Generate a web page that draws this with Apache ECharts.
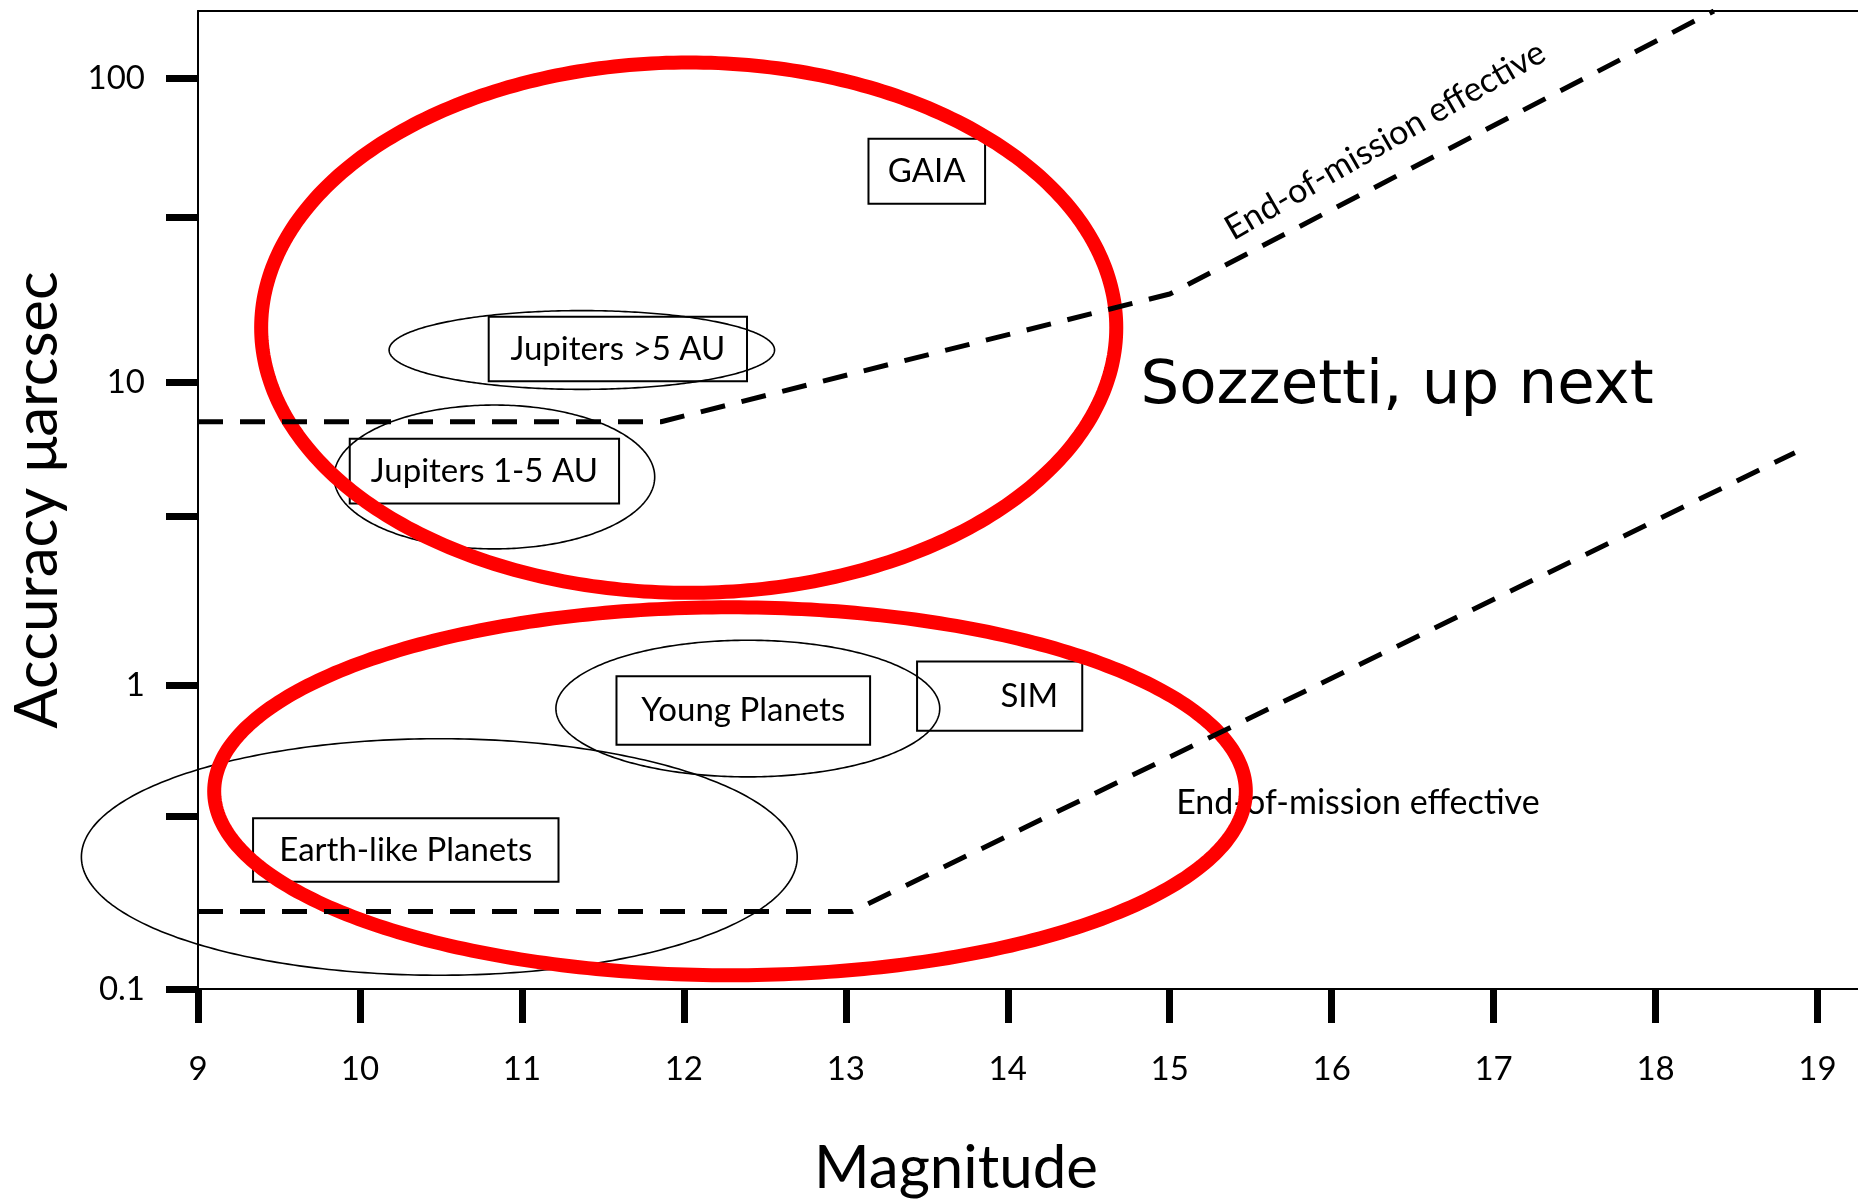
<!DOCTYPE html>
<html>
<head>
<meta charset="utf-8">
<script src="https://cdn.jsdelivr.net/npm/echarts@6/dist/echarts.min.js"></script>
<style>
  html, body { margin: 0; padding: 0; background: #ffffff; }
  #chart { width: 1858px; height: 1204px; }
</style>
</head>
<body>
<div id="chart"></div>
<script>
// ---- axis ticks ----
const xTicks = [9, 10, 11, 12, 13, 14, 15, 16, 17, 18, 19];
const yMajorTicks = [0.1, 1, 10, 100];
const yMinorTicks = [0.37, 3.6, 35];

// ---- dashed accuracy limits: [magnitude, accuracy µas] ----
const gaiaLimit = [[9, 7.4], [11.86, 7.4], [15.0, 19.5], [18.36, 167]];
const simLimit = [[9, 0.18], [13.04, 0.18], [18.86, 5.85]];

// ---- regions: [magMin, magMax, accMin, accMax] ----
const missionRegions = [[9.39, 14.67, 2.02, 113], [9.10, 15.47, 0.111, 1.81]];
const planetRegions = [
  [10.18, 12.56, 9.46, 17.2],   // Jupiters >5 AU
  [9.84, 11.82, 2.82, 8.4],     // Jupiters 1-5 AU
  [11.21, 13.58, 0.50, 1.41],   // Young Planets
  [8.28, 12.70, 0.111, 0.668]   // Earth-like Planets
];

// ---- labelled boxes ----
const boxLabels = ['GAIA', 'Jupiters >5 AU', 'Jupiters 1-5 AU', 'Young Planets', 'SIM', 'Earth-like Planets'];
const boxExtents = [
  [13.14, 13.86, 38.7, 63.3],
  [10.795, 12.39, 10.06, 16.4],
  [9.937, 11.60, 3.98, 6.50],
  [11.584, 13.15, 0.638, 1.073],
  [13.44, 14.46, 0.709, 1.20],
  [9.34, 11.226, 0.2256, 0.365]
];

// ---- free annotations ----
const noteTexts = ['Sozzetti, up next', 'End-of-mission effective', 'End-of-mission effective'];
const notePoints = [[14.82, 9.6], [16.33, 62.5], [15.04, 0.41]];
const noteStyles = [
  { font: '61px "DejaVu Sans"', align: 'left', rotate: 0 },
  { font: '34px Lato', align: 'center', rotate: 30 },
  { font: '34px Lato', align: 'left', rotate: 0 }
];

function ellipseRenderer(color, width) {
  return function (params, api) {
    const a = api.coord([api.value(0), api.value(3)]);
    const b = api.coord([api.value(1), api.value(2)]);
    const cx = (a[0] + b[0]) / 2, cy = (a[1] + b[1]) / 2;
    const rx = Math.abs(b[0] - a[0]) / 2, ry = Math.abs(b[1] - a[1]) / 2;
    const pts = [];
    const n = 360;
    for (let k = 0; k < n; k++) {
      const t = k / n * 2 * Math.PI;
      pts.push([cx + rx * Math.cos(t), cy + ry * Math.sin(t)]);
    }
    return { type: 'polygon', shape: { points: pts }, style: { fill: 'none', stroke: color, lineWidth: width } };
  };
}

function boxRenderer(params, api) {
  const a = api.coord([api.value(0), api.value(3)]);
  const b = api.coord([api.value(1), api.value(2)]);
  const x = Math.min(a[0], b[0]), y = Math.min(a[1], b[1]);
  const w = Math.abs(b[0] - a[0]), h = Math.abs(b[1] - a[1]);
  const label = boxLabels[params.dataIndex];
  const right = label === 'SIM';
  return {
    type: 'group',
    children: [
      { type: 'rect', shape: { x: x, y: y, width: w, height: h },
        style: { fill: 'none', stroke: '#000', lineWidth: 2 } },
      { type: 'text', style: {
          text: label, x: right ? x + w - 24 : x + w / 2, y: y + h / 2,
          align: right ? 'right' : 'center', verticalAlign: 'middle',
          font: '33px Lato', fill: '#000' } }
    ]
  };
}

function noteRenderer(params, api) {
  const p = api.coord([api.value(0), api.value(1)]);
  const s = noteStyles[params.dataIndex];
  return {
    type: 'text',
    x: p[0], y: p[1],
    rotation: s.rotate * Math.PI / 180,
    style: { text: noteTexts[params.dataIndex], x: 0, y: 0, align: s.align, verticalAlign: 'middle', font: s.font, fill: '#000' }
  };
}

const chart = echarts.init(document.getElementById('chart'), null, { renderer: 'canvas' });
const axisBlack = { color: '#000', width: 2 };
chart.setOption({
  backgroundColor: '#ffffff',
  animation: false,
  textStyle: { fontFamily: 'Lato', color: '#000' },
  grid: { left: 196, top: 11, right: 0, bottom: 208, containLabel: false },
  xAxis: [
    {
      type: 'value', min: 9, max: 19.25, position: 'bottom',
      axisLine: { show: true, lineStyle: axisBlack },
      axisTick: { show: true, customValues: xTicks, length: 34, lineStyle: { color: '#000', width: 7 } },
      axisLabel: { show: true, customValues: xTicks, margin: 64, fontSize: 33, fontFamily: 'Lato', color: '#000' },
      splitLine: { show: false },
      name: 'Magnitude', nameLocation: 'middle', nameGap: 150,
      nameTextStyle: { fontSize: 60, fontFamily: 'Lato', color: '#000', padding: [0, 144, 0, 0] }
    },
    {
      type: 'value', min: 9, max: 19.25, position: 'top',
      axisLine: { show: true, lineStyle: axisBlack },
      axisTick: { show: false }, axisLabel: { show: false }, splitLine: { show: false }
    }
  ],
  yAxis: {
    type: 'log', logBase: 10, min: 0.1, max: 167,
    axisLine: { show: true, lineStyle: axisBlack },
    axisTick: { show: true, customValues: yMajorTicks.concat(yMinorTicks), length: 32, lineStyle: { color: '#000', width: 7 } },
    axisLabel: { show: true, customValues: yMajorTicks, margin: 53, fontSize: 33, fontFamily: 'Lato', color: '#000',
                 formatter: function (v) { return String(+(+v).toPrecision(3)); } },
    splitLine: { show: false },
    minorTick: { show: false },
    name: 'Accuracy μarcsec', nameLocation: 'middle', nameRotate: 90, nameGap: 130,
    nameTextStyle: { fontSize: 60, fontFamily: 'Lato', color: '#000' }
  },
  series: [
    { type: 'custom', name: 'planet regions', clip: false, silent: true, z: 2,
      encode: { x: [0, 1], y: [2, 3] }, data: planetRegions, renderItem: ellipseRenderer('#000', 1.6) },
    { type: 'custom', name: 'boxes', clip: false, silent: true, z: 2,
      encode: { x: [0, 1], y: [2, 3] }, data: boxExtents, renderItem: boxRenderer },
    { type: 'custom', name: 'notes', clip: false, silent: true, z: 2,
      encode: { x: 0, y: 1 }, data: notePoints, renderItem: noteRenderer },
    { type: 'custom', name: 'mission regions', clip: false, silent: true, z: 3,
      encode: { x: [0, 1], y: [2, 3] }, data: missionRegions, renderItem: ellipseRenderer('#ff0000', 14) },
    { type: 'line', name: 'GAIA limit', data: gaiaLimit, showSymbol: false, silent: true, z: 4,
      lineStyle: { color: '#000', width: 5, type: [25, 17] } },
    { type: 'line', name: 'SIM limit', data: simLimit, showSymbol: false, silent: true, z: 4,
      lineStyle: { color: '#000', width: 5, type: [25, 17] } }
  ]
});
</script>
</body>
</html>
